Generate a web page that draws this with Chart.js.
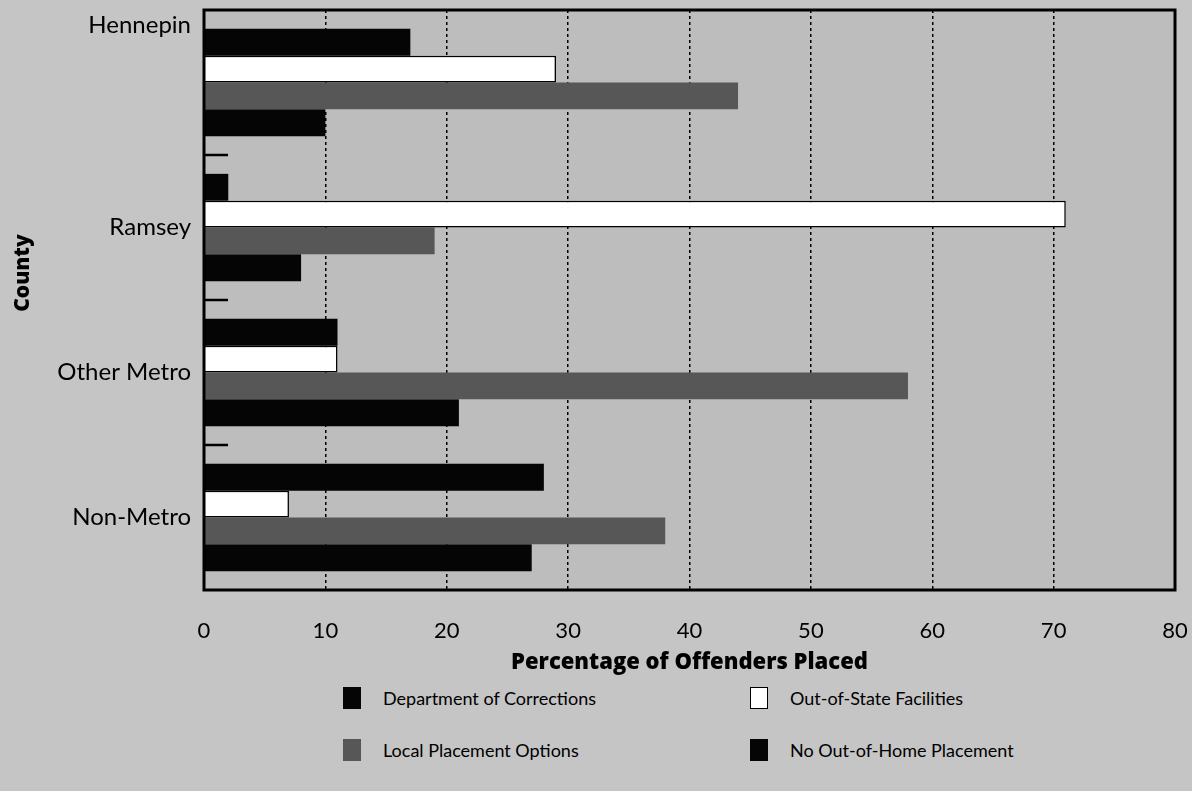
<!DOCTYPE html>
<html>
<head>
<meta charset="utf-8">
<script src="https://cdn.jsdelivr.net/npm/chart.js@4.4.1/dist/chart.umd.min.js"></script>
<style>
  html, body { margin: 0; padding: 0; background: #c5c5c5; }
  #wrap { position: relative; width: 1192px; height: 791px; overflow: hidden; }
  #chart { position: absolute; left: 0; top: 0; }
  .lg { position: absolute; font: 18px Lato, sans-serif; color: #000; display: flex; align-items: center; }
  .lg i { display: inline-block; width: 18px; height: 22px; margin-right: 22px; box-sizing: border-box; }
</style>
</head>
<body>
<div id="wrap">
  <canvas id="chart" width="1192" height="680"></canvas>
  <div id="legend"></div>
</div>
<script>
// ── Données ──────────────────────────────────────────────
const COUNTIES   = ['Hennepin', 'Ramsey', 'Other Metro', 'Non-Metro'];
const CORRECTIONS = [17, 2, 11, 28];
const OUT_OF_STATE = [29, 71, 11, 7];
const LOCAL       = [44, 19, 58, 38];
const NO_PLACEMENT = [10, 8, 21, 27];
const X_TICKS = [0, 10, 20, 30, 40, 50, 60, 70, 80];

const SERIES = [
  { label: 'Department of Corrections', data: CORRECTIONS,  bg: '#050505', border: '#050505', bw: 0 },
  { label: 'Out-of-State Facilities',   data: OUT_OF_STATE, bg: '#ffffff', border: '#000000', bw: 1.5 },
  { label: 'Local Placement Options',   data: LOCAL,        bg: '#575757', border: '#575757', bw: 0 },
  { label: 'No Out-of-Home Placement',  data: NO_PLACEMENT, bg: '#050505', border: '#050505', bw: 0 },
];

const FONT = 'Lato, "Open Sans", sans-serif';

// cadre noir, petits traits entre les groupes, titre "County"
const framePlugin = {
  id: 'frame',
  beforeDraw(chart) {
    const { ctx, chartArea: a } = chart;
    ctx.save();
    ctx.fillStyle = '#bdbdbd';
    ctx.fillRect(a.left, a.top, a.right - a.left, a.bottom - a.top);
    ctx.restore();
  },
  afterDraw(chart) {
    const { ctx, chartArea: a, scales: { y } } = chart;
    ctx.save();
    ctx.strokeStyle = '#000';
    ctx.lineWidth = 3;
    ctx.strokeRect(a.left, a.top, a.right - a.left, a.bottom - a.top);
    ctx.lineWidth = 2.5;
    for (let i = 0; i < COUNTIES.length - 1; i++) {
      const yy = (y.getPixelForValue(i) + y.getPixelForValue(i + 1)) / 2;
      ctx.beginPath();
      ctx.moveTo(a.left, yy);
      ctx.lineTo(a.left + 24, yy);
      ctx.stroke();
    }
    ctx.translate(23, 273);
    ctx.rotate(-Math.PI / 2);
    ctx.fillStyle = '#000';
    ctx.font = '800 21px "Open Sans", sans-serif';
    ctx.textAlign = 'center';
    ctx.textBaseline = 'middle';
    ctx.fillText('County', 0, 0);
    ctx.restore();
  },
};

new Chart(document.getElementById('chart'), {
  type: 'bar',
  data: {
    labels: COUNTIES,
    datasets: SERIES.map(s => ({
      label: s.label, data: s.data,
      backgroundColor: s.bg, borderColor: s.border, borderWidth: s.bw,
      barPercentage: 1, categoryPercentage: 0.74,
    })),
  },
  options: {
    indexAxis: 'y',
    responsive: false, animation: false,
    layout: { padding: { top: 10, right: 17, left: 0, bottom: 0 } },
    plugins: { legend: { display: false }, tooltip: { enabled: false } },
    scales: {
      x: {
        type: 'linear', min: 0, max: 80,
        afterBuildTicks: s => { s.ticks = X_TICKS.map(v => ({ value: v })); },
        afterFit: s => { s.height = 90; s.paddingLeft = 0; s.paddingRight = 0; },
        ticks: { color: '#000', font: { family: FONT, size: 22 }, padding: 28 },
        grid: { color: '#000', lineWidth: 1.5, drawTicks: false },
        border: { display: false, dash: [3, 3] },
        title: { display: true, text: 'Percentage of Offenders Placed', color: '#000',
                 font: { family: '"Open Sans", sans-serif', size: 22, weight: '800' }, padding: { top: 0, bottom: 4 } },
      },
      y: {
        afterFit: s => { s.width = 204; s.paddingTop = 0; s.paddingBottom = 0; },
        ticks: {
          color: '#000', font: { family: FONT, size: 24 }, padding: 13, autoSkip: false,
          callback: (v, i) => i === 0 ? [COUNTIES[i], '', '', '', ''] : COUNTIES[i],
        },
        grid: { display: false, drawTicks: false },
        border: { display: false },
      },
    },
  },
  plugins: [framePlugin],
});

// ── Légende (2 colonnes) ─────────────────────────────────
const LEGEND_POS = [[343, 687], [750, 687], [343, 739], [750, 739]];
document.getElementById('legend').innerHTML = SERIES.map((s, n) => {
  const [x, y] = LEGEND_POS[n];
  return `<div class="lg" style="left:${x}px;top:${y}px">
    <i style="background:${s.bg};border:${s.bw ? '1.5px solid #000' : 'none'}"></i>${s.label}</div>`;
}).join('');
</script>
</body>
</html>
